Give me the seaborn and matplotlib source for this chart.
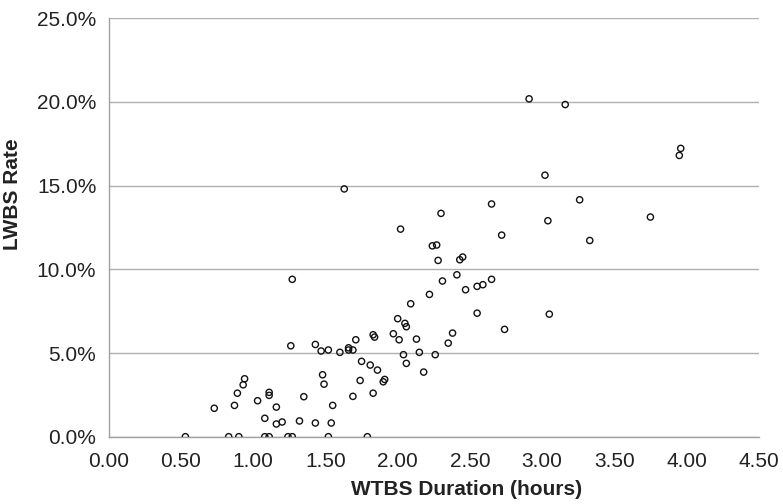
import matplotlib
matplotlib.use("Agg")
import matplotlib.pyplot as plt
import seaborn as sns
import pandas as pd
from matplotlib.ticker import PercentFormatter, FormatStrFormatter, MultipleLocator

# WTBS duration (hours)
wtbs_hours = [
    0.53, 0.73, 0.83, 0.90, 0.87, 0.89, 0.93, 0.94, 1.03, 1.08,
    1.08, 1.11, 1.11, 1.11, 1.16, 1.16, 1.20, 1.24, 1.27, 1.26,
    1.27, 1.32, 1.35, 1.43, 1.43, 1.47, 1.48, 1.49, 1.52, 1.52,
    1.54, 1.55, 1.60, 1.63, 1.66, 1.66, 1.69, 1.69, 1.71, 1.74,
    1.75, 1.79, 1.81, 1.83, 1.83, 1.84, 1.86, 1.90, 1.91, 1.97,
    2.00, 2.01, 2.02, 2.04, 2.05, 2.06, 2.06, 2.09, 2.13, 2.15,
    2.18, 2.22, 2.24, 2.27, 2.26, 2.28, 2.30, 2.31, 2.35, 2.38,
    2.41, 2.43, 2.45, 2.47, 2.55, 2.55, 2.59, 2.65, 2.65, 2.72,
    2.74, 2.91, 3.02, 3.04, 3.05, 3.16, 3.26, 3.33, 3.75, 3.95,
    3.96,
]
# LWBS rate (%)
lwbs_rate = [
    0.0, 1.70, 0.0, 0.0, 1.87, 2.60, 3.10, 3.46, 2.15, 1.10,
    0.0, 0.0, 2.65, 2.47, 1.77, 0.76, 0.88, 0.0, 0.0, 5.43,
    9.40, 0.94, 2.39, 0.82, 5.51, 5.12, 3.70, 3.14, 0.0, 5.18,
    0.82, 1.87, 5.04, 14.80, 5.31, 5.18, 2.41, 5.18, 5.79, 3.36,
    4.50, 0.0, 4.28, 2.60, 6.09, 5.95, 3.98, 3.28, 3.42, 6.15,
    7.05, 5.79, 12.40, 4.90, 6.77, 6.57, 4.38, 7.94, 5.83, 5.04,
    3.86, 8.50, 11.40, 11.45, 4.90, 10.53, 13.34, 9.30, 5.59, 6.19,
    9.67, 10.57, 10.73, 8.78, 7.38, 8.98, 9.08, 9.40, 13.90, 12.04,
    6.41, 20.18, 15.62, 12.90, 7.32, 19.84, 14.15, 11.72, 13.12, 16.80,
    17.22,
]
x_label = "WTBS Duration (hours)"
y_label = "LWBS Rate"

df = pd.DataFrame({x_label: wtbs_hours, y_label: lwbs_rate})

sns.set_style("white")
plt.rcParams["font.family"] = ["Liberation Sans", "DejaVu Sans"]

fig = plt.figure(figsize=(7.83, 5.04), dpi=100)
ax = fig.add_axes([0.139, 0.1335, 0.830, 0.8305])

sns.scatterplot(data=df, x=x_label, y=y_label, ax=ax,
                marker="o", s=20, facecolor="none", edgecolor="#111111",
                linewidth=1.0, zorder=3)

ax.set_xlim(0, 4.5)
ax.set_ylim(0, 25)
ax.xaxis.set_major_locator(MultipleLocator(0.5))
ax.yaxis.set_major_locator(MultipleLocator(5))
ax.xaxis.set_major_formatter(FormatStrFormatter("%.2f"))
ax.yaxis.set_major_formatter(PercentFormatter(xmax=100, decimals=1))

ax.yaxis.grid(True, color="#b0b0b0", linewidth=1.0, zorder=0)
ax.xaxis.grid(False)
for side in ["top", "right"]:
    ax.spines[side].set_visible(False)
for side in ["left", "bottom"]:
    ax.spines[side].set_color("#a0a0a0")
    ax.spines[side].set_linewidth(1.0)

ax.tick_params(axis="both", which="major", direction="out", length=3,
               width=1.0, color="#a0a0a0", labelsize=15, labelcolor="#222222")
ax.tick_params(axis="x", pad=8)
ax.tick_params(axis="y", pad=6)

ax.set_xlabel(x_label, fontsize=15, fontweight="bold", color="#222222")
ax.set_ylabel(y_label, fontsize=15, fontweight="bold", color="#222222")
ax.xaxis.set_label_coords(0.551, -0.125)
ax.xaxis.label.set_va("center")
ax.yaxis.set_label_coords(-0.148, 0.58)
ax.yaxis.label.set_va("center")

fig.savefig("out.png", dpi=100)
